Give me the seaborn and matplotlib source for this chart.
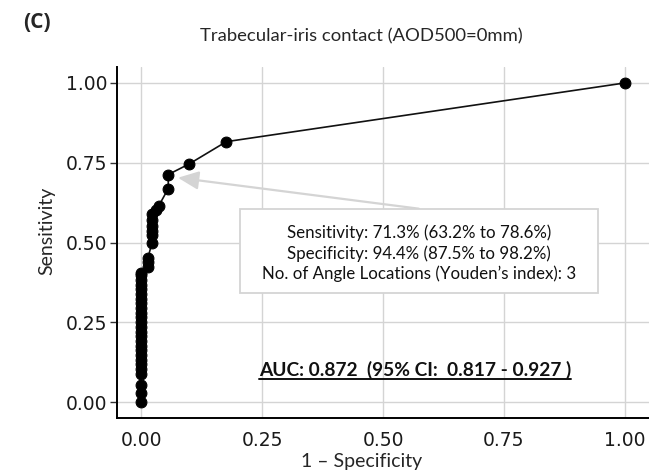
import matplotlib
matplotlib.use("Agg")
import matplotlib.pyplot as plt
import seaborn as sns
import pandas as pd
from matplotlib.patches import Rectangle
from matplotlib.lines import Line2D

# ---- data ----
fpr = [0.0] * 26 + [0.014] * 3 + [0.022] * 6 + [0.031, 0.036] + [0.056, 0.056] + [0.099, 0.176, 1.0]
tpr = [0.000, 0.027, 0.053, 0.088, 0.103, 0.118, 0.132, 0.147, 0.162, 0.176,
       0.191, 0.206, 0.221, 0.235, 0.250, 0.265, 0.279, 0.294, 0.309, 0.324,
       0.338, 0.353, 0.368, 0.382, 0.397, 0.405,
       0.423, 0.438, 0.452,
       0.497, 0.522, 0.537, 0.553, 0.570, 0.588,
       0.603, 0.614,
       0.669, 0.713,
       0.746, 0.816, 1.000]
ticks = [0.0, 0.25, 0.5, 0.75, 1.0]
tick_labels = ["0.00", "0.25", "0.50", "0.75", "1.00"]
title = "Trabecular-iris contact (AOD500=0mm)"
panel = "(C)"
xlabel = "1 \u2013 Specificity"
ylabel = "Sensitivity"
box_lines = ["Sensitivity: 71.3% (63.2% to 78.6%)",
             "Specificity: 94.4% (87.5% to 98.2%)",
             "No. of Angle Locations (Youden\u2019s index): 3"]
auc_text = "AUC: 0.872  (95% CI:  0.817 - 0.927 )"
youden_point = (0.056, 0.713)

df = pd.DataFrame({"fpr": fpr, "tpr": tpr})

sns.set_style("white")
plt.rcParams["font.family"] = ["Lato", "DejaVu Sans"]

W, H = 649, 473
fig = plt.figure(figsize=(W / 100, H / 100), dpi=100)
ax = fig.add_axes([117 / W, 1 - 418 / H, (W - 117) / W, (418 - 67) / H])

sns.lineplot(data=df, x="fpr", y="tpr", sort=False, estimator=None, ax=ax,
             color="#111111", lw=1.2, marker="o", markersize=7.8,
             markeredgecolor="black", markerfacecolor="black", zorder=3)

ax.set_xlim(-0.05, 1.05)
ax.set_ylim(-0.05, 1.05)
ax.set_xticks(ticks)
ax.set_yticks(ticks)
ax.set_xticklabels(tick_labels, fontfamily="DejaVu Sans", fontsize=13.5, color="#1a1a1a")
ax.set_yticklabels(tick_labels, fontfamily="DejaVu Sans", fontsize=13.5, color="#1a1a1a")
ax.tick_params(axis="x", length=0, pad=9)
ax.tick_params(axis="y", length=5, width=1, color="#333333", pad=2, left=True)
ax.grid(True, color="#d4d4d4", lw=1.0)
ax.set_axisbelow(True)
for s in ["top", "right"]:
    ax.spines[s].set_visible(False)
for s in ["left", "bottom"]:
    ax.spines[s].set_color("black")
    ax.spines[s].set_linewidth(1.4)

ax.set_xlabel("")
ax.set_ylabel("")
fig.text(362 / W, 1 - 461 / H, xlabel, ha="center", va="center", fontsize=14)
fig.text(47 / W, 1 - 231 / H, ylabel, ha="center", va="center", rotation=90, fontsize=14)
fig.text(361 / W, 1 - 36 / H, title, ha="center", va="center", fontsize=13.3)
fig.text(37 / W, 1 - 22 / H, panel, ha="center", va="center", fontsize=15,
         fontweight="bold", family=["Open Sans", "DejaVu Sans"])

# annotation box
ax.add_patch(Rectangle((0.2045, 0.341), 0.7395, 0.265, facecolor="white",
                       edgecolor="#d4d4d4", lw=1.3, zorder=4))
ax.text(0.574, 0.466, "\n".join(box_lines), ha="center", va="center",
        fontsize=12.2, linespacing=1.3, color="#111111", zorder=5)
ax.annotate("", xy=(youden_point[0] + 0.02, youden_point[1] - 0.01), xytext=(0.574, 0.606),
            arrowprops=dict(arrowstyle="-|>,head_length=0.9,head_width=0.4",
                            color="#d4d4d4", lw=1.6, mutation_scale=14,
                            shrinkA=0, shrinkB=0), zorder=2)

# AUC text (bold, underlined)
t = ax.text(0.566, 0.10, auc_text, ha="center", va="center", fontsize=13.8,
            fontweight="bold", color="#111111", zorder=5)
fig.canvas.draw()
bb = t.get_window_extent(renderer=fig.canvas.get_renderer())
uy = H - 379
fig.add_artist(Line2D([bb.x0, bb.x1], [uy, uy], transform=None, color="#111111", lw=1.4))

fig.savefig("out.png", dpi=100)
